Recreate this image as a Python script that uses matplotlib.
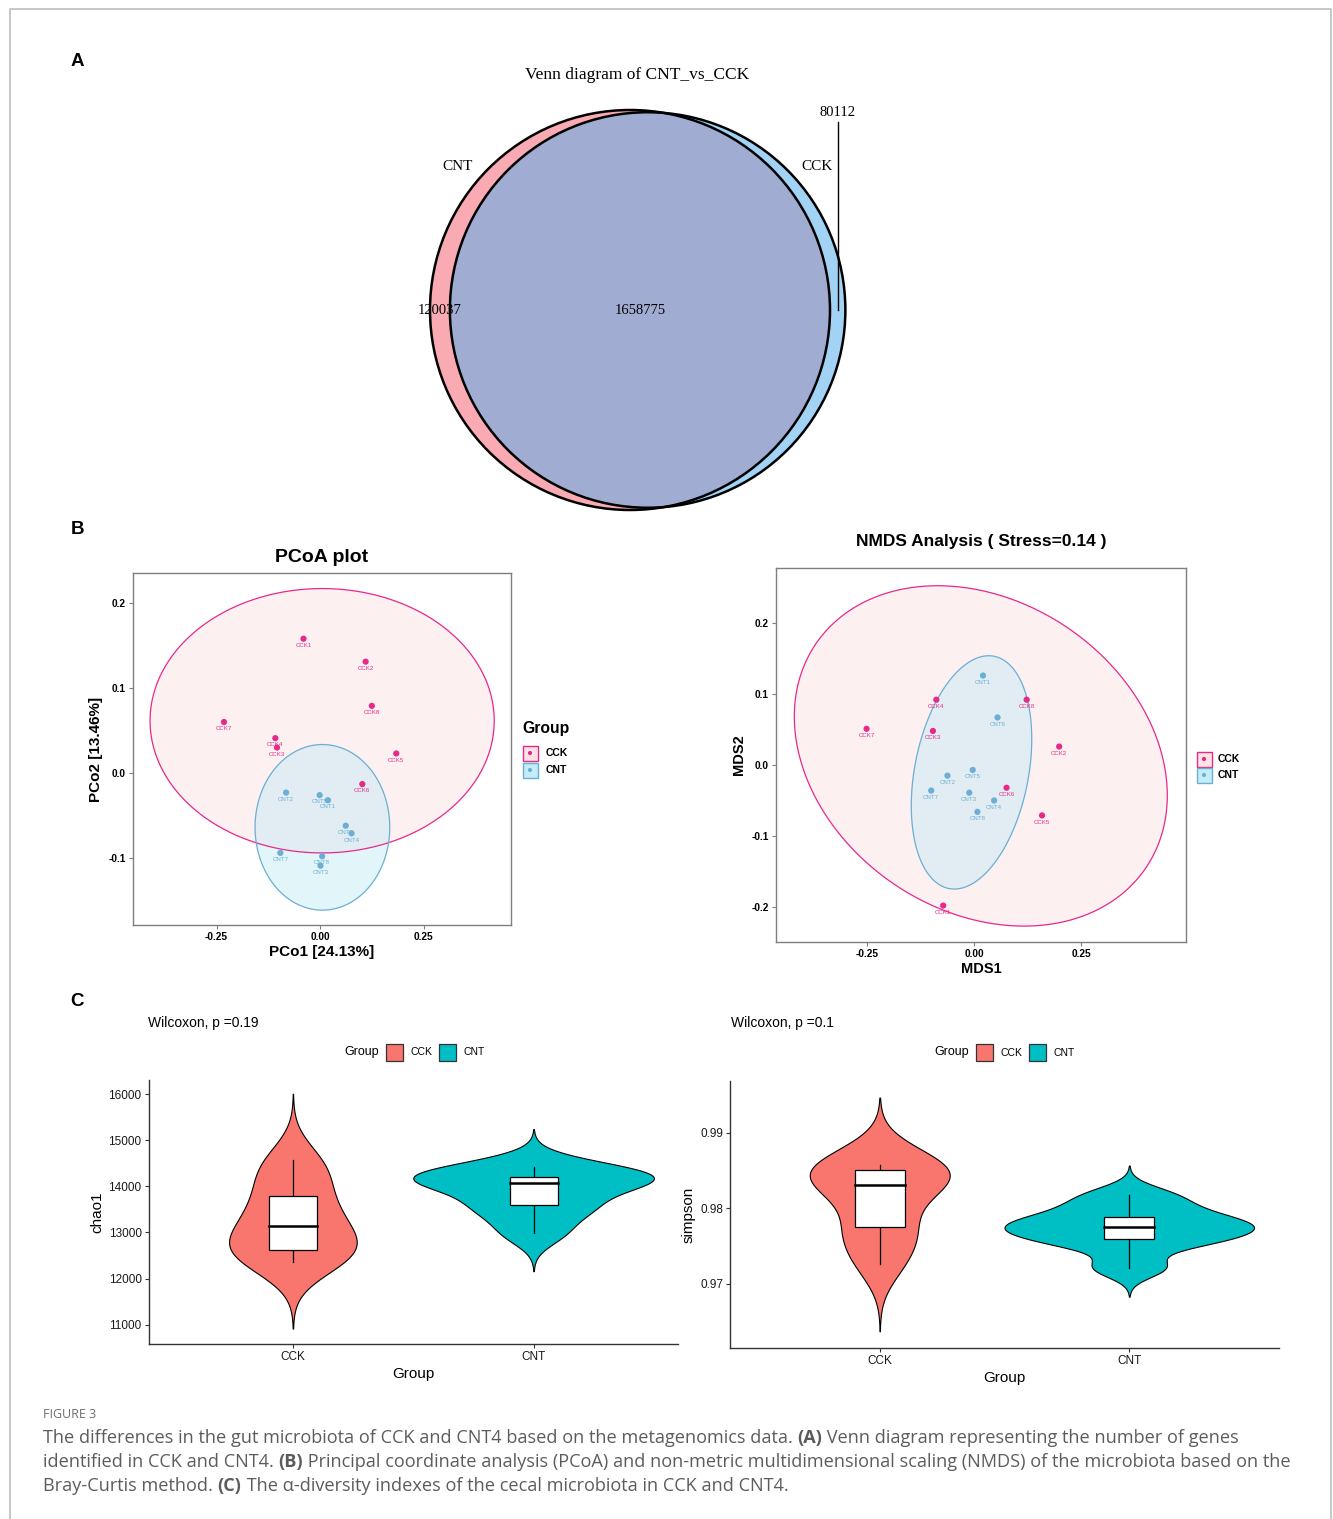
import numpy as np
import matplotlib
matplotlib.use('Agg')
import matplotlib.pyplot as plt
from matplotlib.patches import Circle, Rectangle, Polygon
from matplotlib.colors import to_rgba

plt.rcParams['font.family'] = ['Liberation Sans', 'DejaVu Sans']
plt.rcParams['axes.unicode_minus'] = False

W, H = 1333, 1519

# ---------------- data ----------------
# Venn (A)
venn_names = ['CNT', 'CCK']
only_cnt = 120037
only_cck = 80112
shared = 1658775

# PCoA / NMDS (B)
groups = ['CCK', 'CNT']
grp_color = {'CCK': '#E7298A', 'CNT': '#6BAED6'}
grp_fill = {'CCK': '#FDE3E3', 'CNT': '#C6ECF5'}
ids = ['1', '2', '3', '4', '5', '6', '7', '8']

pcoa_cck_x = [-0.040, 0.110, -0.104, -0.108, 0.184, 0.102, -0.232, 0.125]
pcoa_cck_y = [0.158, 0.131, 0.030, 0.041, 0.023, -0.013, 0.060, 0.079]
pcoa_cnt_x = [0.019, -0.082, 0.001, 0.076, -0.001, 0.062, -0.096, 0.005]
pcoa_cnt_y = [-0.032, -0.023, -0.109, -0.071, -0.026, -0.062, -0.094, -0.098]

nmds_cck_x = [-0.072, 0.199, -0.096, -0.088, 0.159, 0.076, -0.251, 0.123]
nmds_cck_y = [-0.198, 0.026, 0.048, 0.092, -0.071, -0.032, 0.051, 0.092]
nmds_cnt_x = [0.021, -0.062, -0.011, 0.047, -0.003, 0.055, -0.100, 0.008]
nmds_cnt_y = [0.126, -0.015, -0.039, -0.050, -0.007, 0.067, -0.036, -0.066]

# confidence ellipses: centre x, centre y, x half-range, y half-range, phase (deg)
pcoa_ell = {'CCK': (0.005, 0.0615, 0.4155, 0.1555, 90.0),
            'CNT': (0.0056, -0.0639, 0.1626, 0.0974, 90.0)}
nmds_ell = {'CCK': (0.0159, 0.0128, 0.4357, 0.2397, 103.4),
            'CNT': (-0.0058, -0.0104, 0.1407, 0.1643, 73.4)}

pcoa_var = [24.13, 13.46]
nmds_stress = 0.14

# alpha diversity (C)
chao1_cck = [12349, 12550, 12650, 12950, 13306, 13650, 14190, 14571]
chao1_cnt = [12984, 13450, 13637, 14000, 14132, 14180, 14304, 14413]
simpson_cck = [0.97260, 0.97600, 0.97804, 0.98220, 0.98388, 0.98480, 0.98568, 0.98577]
simpson_cnt = [0.97216, 0.97520, 0.97625, 0.97710, 0.97796, 0.97850, 0.98000, 0.98181]
p_chao1 = 0.19
p_simpson = 0.1
violin_colors = ['#F8766D', '#00BFC4']

# ---------------- figure ----------------
fig = plt.figure(figsize=(W / 100, H / 100), dpi=100)


def px_ax(x0, y0, x1, y1):
    return fig.add_axes([x0 / W, 1 - y1 / H, (x1 - x0) / W, (y1 - y0) / H])


# ---- A: Venn (area proportional) ----
r1 = 1.0
r2 = np.sqrt((only_cck + shared) / (only_cnt + shared))


def lens_area(d):
    a1 = r1 ** 2 * np.arccos((d * d + r1 * r1 - r2 * r2) / (2 * d * r1))
    a2 = r2 ** 2 * np.arccos((d * d + r2 * r2 - r1 * r1) / (2 * d * r2))
    k = 0.5 * np.sqrt((-d + r1 + r2) * (d + r1 - r2) * (d - r1 + r2) * (d + r1 + r2))
    return a1 + a2 - k


target = np.pi * r1 ** 2 * shared / (only_cnt + shared)
lo, hi = r1 - r2 + 1e-9, r1 + r2 - 1e-9
for _ in range(100):
    mid = (lo + hi) / 2
    if lens_area(mid) > target:
        lo = mid
    else:
        hi = mid
d = (lo + hi) / 2

axv = px_ax(400, 60, 880, 520)
axv.set_xlim(-1.15, 1.25)
axv.set_ylim(-1.05, 1.25)
axv.axis('off')
c1 = Circle((0, 0), r1, fc='#F9AAB3', ec='none')
c2 = Circle((d, 0), r2, fc='#A2D3F5', ec='none')
axv.add_patch(c1)
axv.add_patch(c2)
c3 = Circle((d, 0), r2, fc='#A1ACD2', ec='none')
axv.add_patch(c3)
c3.set_clip_path(c1)
axv.add_patch(Circle((0, 0), r1, fc='none', ec='black', lw=1.8))
axv.add_patch(Circle((d, 0), r2, fc='none', ec='black', lw=1.8))
serif = ['Liberation Serif', 'DejaVu Serif']
axv.text(0.035, 1.175, 'Venn diagram of CNT_vs_CCK', ha='center', va='center',
         fontsize=12.5, family=serif)
axv.text(-0.86, 0.72, venn_names[0], ha='center', va='center', fontsize=11, family=serif)
axv.text(0.935, 0.715, venn_names[1], ha='center', va='center', fontsize=11, family=serif)
axv.text((-r1 + d - r2) / 2, 0, str(only_cnt), ha='center', va='center', fontsize=10.5, family=serif)
axv.text((d - r2 + r1) / 2, 0, str(shared), ha='center', va='center', fontsize=10.5, family=serif)
xr = (r1 + d + r2) / 2
axv.plot([xr, xr], [0, 0.94], color='black', lw=1)
axv.text(xr, 0.985, str(only_cck), ha='center', va='center', fontsize=10.5, family=serif)


# ---- B: ordinations ----
def ell_xy(cx, cy, rx, ry, phase):
    t = np.linspace(0, 2 * np.pi, 360, endpoint=False)
    return np.column_stack([cx + rx * np.cos(t), cy + ry * np.cos(t - np.radians(phase))])


def ordination(ax, pts, ells, xlim, ylim, yticks, ylabels):
    for g in groups:
        ax.add_patch(Polygon(ell_xy(*ells[g]), closed=True, facecolor=to_rgba(grp_fill[g], 0.5),
                             edgecolor='none', zorder=1))
    for g in groups:
        ax.add_patch(Polygon(ell_xy(*ells[g]), closed=True, facecolor='none',
                             edgecolor=grp_color[g], lw=0.9, zorder=2))
    for g in groups:
        xs, ys = pts[g]
        ax.scatter(xs, ys, s=20, color=grp_color[g], edgecolors='none', zorder=3)
        for i, (x, y) in enumerate(zip(xs, ys)):
            ax.annotate(g + ids[i], (x, y), xytext=(0, -4.8), textcoords='offset points',
                        ha='center', va='center', fontsize=4.4, color=grp_color[g], zorder=4)
    ax.set_xlim(*xlim)
    ax.set_ylim(*ylim)
    ax.set_xticks([-0.25, 0, 0.25])
    ax.set_xticklabels(['-0.25', '0.00', '0.25'])
    ax.set_yticks(yticks)
    ax.set_yticklabels(ylabels)
    for s in ax.spines.values():
        s.set_color('#7f7f7f')
        s.set_linewidth(1)
    ax.tick_params(length=3, color='#7f7f7f', labelsize=7.3, pad=2)
    for lab in ax.get_xticklabels() + ax.get_yticklabels():
        lab.set_fontweight('bold')


axp = px_ax(133, 573, 511, 925)
ordination(axp, {'CCK': (pcoa_cck_x, pcoa_cck_y), 'CNT': (pcoa_cnt_x, pcoa_cnt_y)}, pcoa_ell,
           (-0.4517, 0.461), (-0.1788, 0.2353), [-0.1, 0, 0.1, 0.2], ['-0.1', '0.0', '0.1', '0.2'])
axp.set_title('PCoA plot', fontsize=14, fontweight='bold', pad=8)
axp.set_xlabel(f'PCo1 [{pcoa_var[0]:.2f}%]', fontsize=11, fontweight='bold', labelpad=2)
axp.set_ylabel(f'PCo2 [{pcoa_var[1]:.2f}%]', fontsize=11, fontweight='bold', labelpad=4)

axn = px_ax(776, 568, 1186, 942)
ordination(axn, {'CCK': (nmds_cck_x, nmds_cck_y), 'CNT': (nmds_cnt_x, nmds_cnt_y)}, nmds_ell,
           (-0.4626, 0.4953), (-0.2493, 0.2775), [-0.2, -0.1, 0, 0.1, 0.2],
           ['-0.2', '-0.1', '0.0', '0.1', '0.2'])
axn.set_title(f'NMDS Analysis ( Stress={nmds_stress} )', fontsize=12.5, fontweight='bold', pad=16)
axn.set_xlabel('MDS1', fontsize=10.5, fontweight='bold', labelpad=2)
axn.set_ylabel('MDS2', fontsize=10.5, fontweight='bold', labelpad=4)


# ---- C: violins ----
def bw_nrd0(v):
    v = np.asarray(v, float)
    q1, q3 = np.percentile(v, [25, 75])
    return 0.9 * min(v.std(ddof=1), (q3 - q1) / 1.34) * len(v) ** -0.2


def violins(ax, data, ylim, yticks, ylabels, ylabel):
    dens = []
    for v in data:
        v = np.asarray(v, float)
        bw = bw_nrd0(v)
        g = np.linspace(v.min() - 3 * bw, v.max() + 3 * bw, 512)
        dd = np.exp(-0.5 * ((g[:, None] - v[None, :]) / bw) ** 2).sum(1) / (len(v) * bw * np.sqrt(2 * np.pi))
        dens.append((g, dd))
    dmax = max(dd.max() for g, dd in dens)
    for i, ((g, dd), v) in enumerate(zip(dens, data)):
        pos = i + 1
        w = dd / dmax * 0.5
        ax.fill_betweenx(g, pos - w, pos + w, facecolor=violin_colors[i], edgecolor='black', lw=0.8, zorder=1)
        v = np.asarray(v, float)
        q1, med, q3 = np.percentile(v, [25, 50, 75])
        iqr = q3 - q1
        wlo = v[v >= q1 - 1.5 * iqr].min()
        whi = v[v <= q3 + 1.5 * iqr].max()
        ax.plot([pos, pos], [q3, whi], color='black', lw=0.9, zorder=2)
        ax.plot([pos, pos], [wlo, q1], color='black', lw=0.9, zorder=2)
        ax.add_patch(Rectangle((pos - 0.1, q1), 0.2, q3 - q1, fc='white', ec='black', lw=0.9, zorder=3))
        ax.plot([pos - 0.1, pos + 0.1], [med, med], color='black', lw=1.8, zorder=4)
    ax.set_xlim(0.4, 2.6)
    ax.set_ylim(*ylim)
    ax.set_xticks([1, 2])
    ax.set_xticklabels(groups)
    ax.set_yticks(yticks)
    ax.set_yticklabels(ylabels)
    ax.spines['top'].set_visible(False)
    ax.spines['right'].set_visible(False)
    for s in ('left', 'bottom'):
        ax.spines[s].set_color('#333333')
        ax.spines[s].set_linewidth(1)
    ax.tick_params(length=3, color='#333333', labelsize=8.5, pad=2, labelcolor='#1a1a1a')
    ax.set_xlabel('Group', fontsize=11, labelpad=3)
    ax.set_ylabel(ylabel, fontsize=11, labelpad=3)


axc = px_ax(148.5, 1080, 678, 1344)
violins(axc, [chao1_cck, chao1_cnt], (10580, 16304), [11000, 12000, 13000, 14000, 15000, 16000],
        ['11000', '12000', '13000', '14000', '15000', '16000'], 'chao1')
axs = px_ax(730, 1081, 1279, 1348)
violins(axs, [simpson_cck, simpson_cnt], (0.96154, 0.99682), [0.97, 0.98, 0.99],
        ['0.97', '0.98', '0.99'], 'simpson')

# ---------------- overlay (pixel coordinates) ----------------
ov = fig.add_axes([0, 0, 1, 1])
ov.set_xlim(0, W)
ov.set_ylim(H, 0)
ov.axis('off')

# frame
ov.plot([10, 10, 1331, 1331], [H, 9, 9, H], color='#bdbdbd', lw=1.2)

# panel letters
for lab, y in (('A', 62), ('B', 529), ('C', 1002)):
    ov.text(77, y, lab, fontsize=13.5, fontweight='bold', ha='center', va='center')

# ordination legends
ov.text(522, 729, 'Group', fontsize=11.3, fontweight='bold', ha='left', va='center')


def key(x, y, g):
    ov.add_patch(Rectangle((x - 7.5, y - 7.5), 15, 15, fc=grp_fill[g], ec=grp_color[g], lw=1))
    ov.scatter([x], [y], s=9, color=grp_color[g], edgecolors='none', zorder=5)


for g, y in zip(groups, (753, 770)):
    key(530, y, g)
    ov.text(546, y, g, fontsize=7.5, fontweight='bold', ha='left', va='center')
for g, y in zip(groups, (759, 775)):
    key(1204, y, g)
    ov.text(1218, y, g, fontsize=7.5, fontweight='bold', ha='left', va='center')

# violin headers
for x_w, x0, y, p in ((148.5, 344.6, 1052, p_chao1), (731, 934.6, 1052.5, p_simpson)):
    ov.text(x_w, y - 29.5, f'Wilcoxon, p ={p}', fontsize=10, ha='left', va='center')
    ov.text(x0, y, 'Group', fontsize=9, ha='left', va='center')
    ov.add_patch(Rectangle((x0 + 41.5, y - 8.5), 17, 17, fc=violin_colors[0], ec='#333333', lw=0.9))
    ov.text(x0 + 65.5, y, groups[0], fontsize=7.5, ha='left', va='center')
    ov.add_patch(Rectangle((x0 + 94.5, y - 8.5), 17, 17, fc=violin_colors[1], ec='#333333', lw=0.9))
    ov.text(x0 + 118.5, y, groups[1], fontsize=7.5, ha='left', va='center')

# caption
cap_font = ['Open Sans', 'DejaVu Sans']
cap_col = '#5c5c5c'
ov.text(43, 1415, 'FIGURE 3', fontsize=9, color='#6e6e6e', family=cap_font, ha='left', va='center')
cap_lines = [
    [('The differences in the gut microbiota of CCK and CNT4 based on the metagenomics data. ', 'normal'),
     ('(A)', 'bold'), (' Venn diagram representing the number of genes', 'normal')],
    [('identified in CCK and CNT4. ', 'normal'), ('(B)', 'bold'),
     (' Principal coordinate analysis (PCoA) and non-metric multidimensional scaling (NMDS) of the microbiota based on the', 'normal')],
    [('Bray-Curtis method. ', 'normal'), ('(C)', 'bold'),
     (' The \u03b1-diversity indexes of the cecal microbiota in CCK and CNT4.', 'normal')],
]
renderer = fig.canvas.get_renderer()


def seg_width(s, wgt, size):
    t = ov.text(0, 0, s, fontsize=size, fontweight=wgt, family=cap_font)
    w = t.get_window_extent(renderer=renderer).width
    t.remove()
    return w


base = 12.0
tw = sum(seg_width(s, wg, base) for s, wg in cap_lines[1])
cap_size = base * 1244 / tw
for line, y in zip(cap_lines, (1438, 1462, 1486)):
    x = 43
    for s, wg in line:
        ov.text(x, y, s, fontsize=cap_size, fontweight=wg, family=cap_font, color=cap_col,
                ha='left', va='center')
        x += seg_width(s, wg, cap_size)

fig.savefig('out.png', dpi=100)
